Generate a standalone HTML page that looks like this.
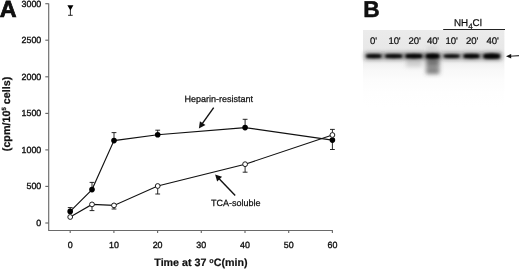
<!DOCTYPE html><html><head><meta charset="utf-8"><title>Figure</title>
<style>html,body{margin:0;padding:0;background:#fff}svg{display:block}text{font-family:"Liberation Sans",Arial,sans-serif;fill:#111;text-rendering:geometricPrecision}</style></head><body>
<svg width="520" height="270" viewBox="0 0 520 270">
<defs><filter id="b1" x="-20%" y="-100%" width="140%" height="300%"><feGaussianBlur stdDeviation="1.1 0.8"/></filter>
<filter id="b2" x="-30%" y="-30%" width="160%" height="160%"><feGaussianBlur stdDeviation="2.2"/></filter>
<linearGradient id="gel" x1="0" y1="0" x2="0" y2="1"><stop offset="0.000" stop-color="#ebebeb"/><stop offset="0.231" stop-color="#e8e8e8"/><stop offset="0.385" stop-color="#eeeeee"/><stop offset="0.513" stop-color="#f8f8f8"/><stop offset="0.641" stop-color="#fcfcfc"/><stop offset="0.795" stop-color="#fefefe"/><stop offset="1.000" stop-color="#ffffff"/></linearGradient></defs>
<rect width="520" height="270" fill="#fff"/>
<g stroke="#6a6a6a" stroke-width="1.15" fill="none">
<path d="M48.7 3.6V230.5H332.9"/>
<path d="M45.3 223.0H48.7"/>
<path d="M45.3 186.4H48.7"/>
<path d="M45.3 149.9H48.7"/>
<path d="M45.3 113.4H48.7"/>
<path d="M45.3 76.8H48.7"/>
<path d="M45.3 40.2H48.7"/>
<path d="M45.3 3.7H48.7"/>
<path d="M70.2 230.5V233.1"/>
<path d="M113.9 230.5V233.1"/>
<path d="M157.6 230.5V233.1"/>
<path d="M201.3 230.5V233.1"/>
<path d="M245.0 230.5V233.1"/>
<path d="M288.7 230.5V233.1"/>
<path d="M332.4 230.5V233.1"/>
</g>
<g font-size="8.9" text-anchor="end" stroke="#111" stroke-width="0.35">
<text x="41.3" y="225.8">0</text>
<text x="41.3" y="189.2">500</text>
<text x="41.3" y="152.7">1000</text>
<text x="41.3" y="116.2">1500</text>
<text x="41.3" y="79.6">2000</text>
<text x="41.3" y="43.0">2500</text>
<text x="41.3" y="6.5">3000</text>
</g>
<g font-size="8.9" text-anchor="middle" stroke="#111" stroke-width="0.35">
<text x="70.2" y="248">0</text>
<text x="113.9" y="248">10</text>
<text x="157.6" y="248">20</text>
<text x="201.3" y="248">30</text>
<text x="245.0" y="248">40</text>
<text x="288.7" y="248">50</text>
<text x="332.4" y="248">60</text>
</g>
<text x="154.3" y="266.4" font-size="10.7" font-weight="bold" stroke="#111" stroke-width="0.2">Time at 37 <tspan font-size="7.2" dy="-3.3">o</tspan><tspan dy="3.3">C(min)</tspan></text>
<text transform="translate(9.9 151.2) rotate(-90)" font-size="10.75" font-weight="bold" stroke="#111" stroke-width="0.25">(cpm/10<tspan font-size="6" dy="-3.5">5</tspan><tspan dy="3.5"> cells)</tspan></text>
<text x="-0.3" y="16.7" font-size="23.3" font-weight="bold" fill="#000" stroke="#000" stroke-width="0.7">A</text>
<g stroke="#111" stroke-width="0.9" fill="none">
<path d="M70.2 211.4V207.6M67.8 207.6H72.6"/>
<path d="M92.0 189.6V182.4M89.6 182.4H94.4"/>
<path d="M114.0 140.6V132.6M111.6 132.6H116.4"/>
<path d="M157.7 134.7V130.2M155.3 130.2H160.1"/>
<path d="M245.1 127.6V119.3M242.7 119.3H247.5"/>
<path d="M332.4 140.1V149.5M330.0 149.5H334.8"/>
<path d="M92.0 204.4V210.6M89.6 210.6H94.4"/>
<path d="M114.0 205.4V209.0M111.6 209.0H116.4"/>
<path d="M157.7 186.0V194.0M155.3 194.0H160.1"/>
<path d="M245.1 164.2V172.2M242.7 172.2H247.5"/>
<path d="M332.4 135.0V129.4M330.0 129.4H334.8"/>
<path d="M70.4 8V15.3M68.1 15.3H72.7"/>
</g>
<polyline fill="none" stroke="#111" stroke-width="1.1" points="70.2,211.4 92.0,189.6 114.0,140.6 157.7,134.7 245.1,127.6 332.4,140.1"/>
<polyline fill="none" stroke="#111" stroke-width="1.1" points="70.2,217.0 92.0,204.4 114.0,205.4 157.7,186.0 245.1,164.2 332.4,135.0"/>
<circle cx="70.2" cy="211.4" r="2.8" fill="#000"/>
<circle cx="92.0" cy="189.6" r="2.8" fill="#000"/>
<circle cx="114.0" cy="140.6" r="2.8" fill="#000"/>
<circle cx="157.7" cy="134.7" r="2.8" fill="#000"/>
<circle cx="245.1" cy="127.6" r="2.8" fill="#000"/>
<circle cx="332.4" cy="140.1" r="2.8" fill="#000"/>
<circle cx="70.2" cy="217.0" r="2.4" fill="#fff" stroke="#111" stroke-width="0.95"/>
<circle cx="92.0" cy="204.4" r="2.4" fill="#fff" stroke="#111" stroke-width="0.95"/>
<circle cx="114.0" cy="205.4" r="2.4" fill="#fff" stroke="#111" stroke-width="0.95"/>
<circle cx="157.7" cy="186.0" r="2.4" fill="#fff" stroke="#111" stroke-width="0.95"/>
<circle cx="245.1" cy="164.2" r="2.4" fill="#fff" stroke="#111" stroke-width="0.95"/>
<circle cx="332.4" cy="135.0" r="2.4" fill="#fff" stroke="#111" stroke-width="0.95"/>
<path d="M67.4 5.2H73.4L70.4 10.6Z" fill="#000"/>
<text x="184.6" y="102" font-size="9" stroke="#111" stroke-width="0.25">Heparin-resistant</text>
<text x="211.1" y="205.6" font-size="9" stroke="#111" stroke-width="0.25">TCA-soluble</text>
<path d="M213.70 107.70L202.10 123.93" stroke="#111" stroke-width="1.40" fill="none"/>
<path d="M198.90 128.40L199.91 121.13L205.45 125.09Z" fill="#111"/>
<path d="M235.20 195.40L218.91 178.46" stroke="#111" stroke-width="1.40" fill="none"/>
<path d="M215.10 174.50L222.06 176.83L217.16 181.54Z" fill="#111"/>
<text x="363.3" y="17.4" font-size="22.8" font-weight="bold" fill="#000" stroke="#000" stroke-width="0.45">B</text>
<rect x="363" y="30" width="141.4" height="78" fill="url(#gel)"/>
<g font-size="9.6" letter-spacing="-0.1" text-anchor="middle" stroke="#111" stroke-width="0.22">
<text x="373.6" y="44.4">0'</text>
<text x="394.5" y="44.4">10'</text>
<text x="414.6" y="44.4">20'</text>
<text x="433.0" y="44.4">40'</text>
<text x="451.6" y="44.4">10'</text>
<text x="472.2" y="44.4">20'</text>
<text x="492.7" y="44.4">40'</text>
</g>
<text x="454" y="26.4" font-size="9.8" stroke="#111" stroke-width="0.25">NH<tspan font-size="8" dy="2.2">4</tspan><tspan dy="-2.2">Cl</tspan></text>
<path d="M443.2 29.5H505" stroke="#222" stroke-width="1"/>
<g filter="url(#b2)">
<rect x="364.8" y="52.9" width="18.0" height="6.4" fill="#222" opacity="0.65"/>
<rect x="383.8" y="52.9" width="19.8" height="6.4" fill="#222" opacity="0.65"/>
<rect x="404.2" y="52.9" width="19.4" height="6.4" fill="#222" opacity="0.75"/>
<rect x="424.6" y="52.9" width="16.0" height="6.4" fill="#222" opacity="0.85"/>
<rect x="442.4" y="52.9" width="18.6" height="6.4" fill="#222" opacity="0.57"/>
<rect x="462.2" y="52.9" width="18.6" height="6.4" fill="#222" opacity="0.70"/>
<rect x="482.2" y="52.9" width="19.0" height="6.4" fill="#222" opacity="0.80"/>
<rect x="426" y="59" width="13.5" height="14.5" fill="#555" opacity="0.62"/><rect x="426.5" y="71" width="12.5" height="2.5" fill="#333" opacity="0.55"/><rect x="426.5" y="61" width="12.5" height="3.5" fill="#333" opacity="0.4"/><rect x="406" y="59" width="16" height="8" fill="#888" opacity="0.32"/><rect x="427" y="47" width="11" height="1.5" fill="#666" opacity="0.4"/>
</g>
<g filter="url(#b1)">
<rect x="366.1" y="54.5" width="15.4" height="3.2" rx="1.6" fill="#000" opacity="0.85"/>
<ellipse cx="373.8" cy="56.1" rx="6.5" ry="2.10" fill="#000" opacity="0.6"/>
<rect x="385.1" y="54.5" width="17.2" height="3.2" rx="1.6" fill="#000" opacity="0.85"/>
<ellipse cx="393.7" cy="56.1" rx="7.4" ry="2.10" fill="#000" opacity="0.6"/>
<rect x="405.5" y="54.2" width="16.8" height="3.8" rx="1.9" fill="#000" opacity="0.90"/>
<ellipse cx="413.9" cy="56.1" rx="7.2" ry="2.40" fill="#000" opacity="0.6"/>
<rect x="425.9" y="54.0" width="13.4" height="4.3" rx="2.1" fill="#000" opacity="0.90"/>
<ellipse cx="432.6" cy="56.1" rx="5.5" ry="2.65" fill="#000" opacity="0.6"/>
<rect x="443.7" y="54.7" width="16.0" height="2.8" rx="1.4" fill="#000" opacity="0.90"/>
<ellipse cx="451.7" cy="56.1" rx="6.8" ry="1.90" fill="#000" opacity="0.6"/>
<rect x="463.5" y="54.2" width="16.0" height="3.7" rx="1.9" fill="#000" opacity="0.90"/>
<ellipse cx="471.5" cy="56.1" rx="6.8" ry="2.35" fill="#000" opacity="0.6"/>
<rect x="483.5" y="53.9" width="16.4" height="4.5" rx="2.2" fill="#000" opacity="0.90"/>
<ellipse cx="491.7" cy="56.1" rx="7.0" ry="2.75" fill="#000" opacity="0.6"/>
</g>
<path d="M510 56.2L519 55.6" stroke="#333" stroke-width="1.1"/><path d="M506 56.2L511.2 53.9V58.5Z" fill="#111"/>
</svg></body></html>
